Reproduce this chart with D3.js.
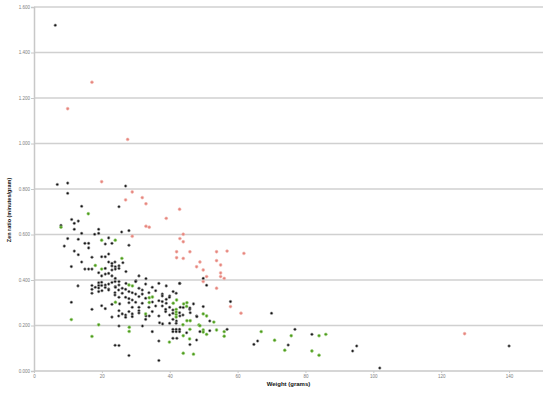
<!DOCTYPE html>
<html><head><meta charset="utf-8">
<script src="https://cdn.jsdelivr.net/npm/d3@7/dist/d3.min.js"></script>
<style>body{margin:0;background:#fff}svg{display:block}</style>
</head><body><svg id="c" width="549" height="401"></svg>
<script>
// x = weight (grams), y = zen ratio (minutes/gram)
const blackPts = [
[6.27,1.520],[6.86,0.820],[9.93,0.826],[27.0,0.813],[9.93,0.781],[14.05,0.724],[25.04,0.722],
[11.1,0.666],[13.05,0.659],[11.87,0.649],[7.95,0.640],[11.87,0.623],[19.06,0.623],[25.83,0.611],
[27.98,0.617],[14.05,0.605],[17.88,0.601],[19.06,0.605],[9.93,0.582],[13.05,0.579],[22.0,0.585],
[8.92,0.549],[15.0,0.561],[16.1,0.561],[21.0,0.558],[22.97,0.561],[27.98,0.553],[16.1,0.541],
[11.87,0.527],[13.05,0.511],[22.0,0.514],[17.08,0.500],[19.94,0.502],[21.0,0.502],[14.05,0.479],
[22.0,0.479],[23.86,0.479],[26.2,0.476],[22.97,0.473],[11.0,0.459],[22.97,0.462],[23.95,0.458],
[25.04,0.462],[25.04,0.451],[15.0,0.448],[16.1,0.448],[17.08,0.448],[21.0,0.451],[22.97,0.444],
[23.95,0.448],[19.06,0.432],[21.0,0.426],[19.94,0.418],[22.0,0.429],[27.1,0.437],[22.97,0.418],
[23.95,0.407],[30.93,0.418],[30.04,0.396],[33.0,0.406],[43.0,0.385],[49.87,0.407],[50.87,0.377],
[12.96,0.374],[17.08,0.376],[17.08,0.359],[17.08,0.342],[18.06,0.368],[19.06,0.388],[19.06,0.376],
[19.06,0.365],[19.06,0.349],[19.94,0.390],[19.94,0.376],[20.03,0.353],[21.0,0.378],[21.0,0.367],
[22.0,0.382],[22.0,0.360],[22.97,0.389],[23.9,0.393],[23.95,0.371],[25.04,0.393],[25.04,0.378],
[26.0,0.364],[27.0,0.359],[27.1,0.385],[23.86,0.344],[26.0,0.342],[22.0,0.356],[24.95,0.356],
[29.96,0.393],[30.93,0.364],[31.9,0.356],[32.9,0.382],[34.85,0.368],[35.85,0.353],[36.8,0.385],
[38.97,0.374],[42.9,0.385],[27.98,0.349],[28.95,0.344],[29.96,0.338],[31.9,0.338],[33.87,0.344],
[37.8,0.338],[39.97,0.330],[41.9,0.342],[41.0,0.349],[25.04,0.324],[27.0,0.324],[27.98,0.318],
[28.95,0.312],[30.93,0.327],[32.9,0.320],[36.8,0.309],[37.8,0.330],[38.97,0.315],[38.97,0.298],
[39.9,0.324],[11.0,0.302],[25.24,0.295],[22.97,0.293],[19.94,0.287],[17.08,0.271],[21.0,0.274],
[27.98,0.300],[28.95,0.280],[29.96,0.302],[30.93,0.280],[31.9,0.298],[33.87,0.280],[34.9,0.303],
[35.85,0.286],[37.8,0.286],[39.97,0.280],[40.94,0.268],[43.1,0.280],[45.9,0.271],[47.0,0.295],
[49.87,0.283],[47.92,0.242],[25.04,0.265],[26.0,0.251],[27.0,0.246],[27.98,0.261],[28.95,0.251],
[30.93,0.265],[30.93,0.255],[34.85,0.261],[36.8,0.242],[39.97,0.246],[42.9,0.256],[43.9,0.246],
[46.04,0.256],[48.0,0.239],[22.97,0.237],[24.95,0.242],[28.95,0.239],[33.0,0.242],[33.96,0.242],
[37.0,0.212],[39.97,0.210],[40.94,0.227],[41.97,0.220],[43.0,0.242],[51.8,0.220],[25.04,0.198],
[31.96,0.198],[37.9,0.207],[40.94,0.183],[41.9,0.183],[42.9,0.183],[40.94,0.173],[41.9,0.173],
[42.9,0.173],[34.85,0.173],[40.94,0.144],[42.1,0.144],[44.98,0.168],[48.9,0.173],[51.8,0.177],
[56.9,0.183],[47.92,0.136],[45.95,0.116],[36.8,0.132],[23.9,0.113],[25.04,0.112],[27.98,0.068],
[36.8,0.046],[57.9,0.305],[70.0,0.254],[76.9,0.183],[81.9,0.161],[74.9,0.114],[64.8,0.117],
[65.9,0.132],[93.9,0.088],[95.1,0.110],[101.9,0.013],[140.0,0.110],[43.98,0.279],[45.95,0.277],
[41.9,0.210],[38.8,0.261],[40.94,0.254],[37.8,0.305],[32.9,0.227],[27.0,0.236],[38.8,0.271],
[23.86,0.334],[24.0,0.368]
];
const pinkPts = [
[9.93,1.153],[17.08,1.269],[27.6,1.018],[19.94,0.832],[28.95,0.787],[27.0,0.752],[31.9,0.762],
[33.0,0.735],[42.9,0.711],[38.97,0.671],[33.0,0.636],[33.96,0.632],[28.95,0.592],[43.98,0.601],
[43.0,0.582],[43.98,0.568],[42.03,0.524],[45.95,0.524],[42.03,0.498],[43.98,0.495],[47.92,0.458],
[48.9,0.479],[53.8,0.524],[56.9,0.527],[61.86,0.517],[53.8,0.485],[55.0,0.466],[49.87,0.444],
[55.0,0.431],[50.87,0.415],[55.0,0.415],[56.05,0.407],[49.87,0.393],[53.8,0.364],[57.9,0.283],
[61.0,0.254],[126.9,0.164]
];
const greenPts = [
[16.0,0.691],[7.95,0.632],[19.94,0.575],[23.95,0.575],[25.9,0.495],[18.06,0.464],[19.94,0.448],
[27.98,0.378],[29.0,0.374],[33.96,0.322],[34.9,0.325],[24.0,0.302],[33.96,0.301],[41.03,0.298],
[42.03,0.312],[45.07,0.300],[44.98,0.284],[44.1,0.295],[41.9,0.271],[41.9,0.259],[41.9,0.248],
[41.9,0.237],[32.9,0.251],[11.0,0.226],[19.06,0.203],[28.07,0.192],[17.08,0.152],[28.04,0.174],
[45.07,0.221],[46.04,0.221],[43.9,0.203],[48.6,0.202],[49.87,0.251],[50.87,0.242],[53.0,0.215],
[48.9,0.199],[45.95,0.183],[49.87,0.180],[49.87,0.171],[53.8,0.180],[56.05,0.173],[50.87,0.161],
[43.98,0.155],[56.05,0.153],[66.95,0.173],[75.8,0.155],[70.9,0.135],[84.0,0.155],[86.0,0.161],
[73.9,0.091],[81.9,0.088],[84.0,0.069],[43.98,0.078],[47.0,0.074],[39.9,0.127],[45.86,0.141]
];
const yTicks = [0,0.2,0.4,0.6,0.8,1.0,1.2,1.4,1.6];
const xTicks = [0,20,40,60,80,100,120,140];

const svg = d3.select("#c");
const x = d3.scaleLinear().domain([0,150]).range([34,543]);
const y = d3.scaleLinear().domain([0,1.6]).range([371,7]);
const font = "'Liberation Sans', Arial, sans-serif";

// gridlines
svg.append("g").selectAll("line").data(yTicks.filter(d=>d>0)).join("line")
  .attr("x1",x(0)).attr("x2",x(150)).attr("y1",d=>y(d)).attr("y2",d=>y(d))
  .attr("stroke","#d0d0d0").attr("stroke-width",1.3);

// y axis
const ya = svg.append("g").attr("transform",`translate(${x(0)},0)`)
  .call(d3.axisLeft(y).tickValues(yTicks).tickFormat(d3.format(".3f")).tickSize(3).tickPadding(1));
ya.select(".domain").attr("stroke","#c8c8c8").attr("stroke-width",1.5);
ya.selectAll(".tick line").attr("stroke","#c8c8c8");
ya.selectAll("text").attr("font-size",4.5).attr("fill","#808080").attr("font-family",font);

// x axis
const xa = svg.append("g").attr("transform",`translate(0,${y(0)})`)
  .call(d3.axisBottom(x).tickValues(xTicks).tickFormat(d3.format("d")).tickSize(2).tickPadding(2));
xa.select(".domain").attr("stroke","#c8c8c8").attr("stroke-width",1.3).attr("d",`M${x(0)},0H${x(150)}`);
xa.selectAll(".tick line").attr("stroke","#c8c8c8");
xa.selectAll("text").attr("font-size",4.5).attr("fill","#808080").attr("font-family",font);

// titles
svg.append("text").attr("x",288.5).attr("y",386).attr("text-anchor","middle")
  .attr("font-size",6).attr("font-weight","bold").attr("font-family",font).attr("fill","#111")
  .text("Weight (grams)");
svg.append("text").attr("transform","translate(11,210) rotate(-90)").attr("text-anchor","middle")
  .attr("font-size",5.5).attr("font-weight","bold").attr("font-family",font).attr("fill","#111")
  .text("Zen ratio (minutes/gram)");

function plot(data, fill, stroke, r){
  svg.append("g").selectAll("circle").data(data).join("circle")
    .attr("cx",d=>x(d[0])).attr("cy",d=>y(d[1])).attr("r",r)
    .attr("fill",fill).attr("stroke",stroke).attr("stroke-width",0.6);
}
plot(blackPts,"#111","#a0a0a0",1.3);
plot(pinkPts,"#e6847c","#f4bcb6",1.45);
plot(greenPts,"#4c9a1a","#a3d486",1.45);
</script></body></html>
